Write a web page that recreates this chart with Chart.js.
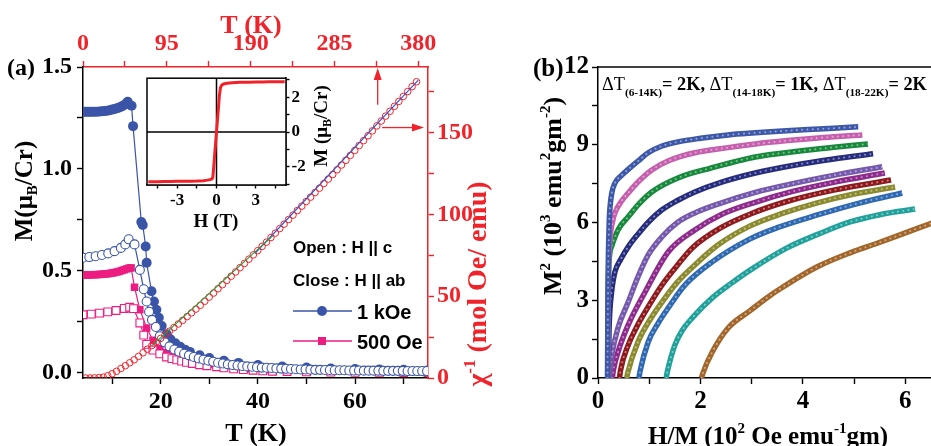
<!DOCTYPE html>
<html><head><meta charset="utf-8">
<script src="https://cdn.jsdelivr.net/npm/chart.js@4.4.1/dist/chart.umd.min.js"></script>
<style>
html,body{margin:0;padding:0;background:#fff;overflow:hidden;width:931px;height:446px;}
canvas{position:absolute;}
#cA{left:0;top:0;z-index:1}
#cB{left:140px;top:66px;z-index:2}
#cC{left:480px;top:0;z-index:3}
</style></head><body>
<canvas id="cA" width="500" height="446"></canvas>
<canvas id="cB" width="200" height="175"></canvas>
<canvas id="cC" width="452" height="446"></canvas>
<script>
// ---------------- Panel (a): M vs T ----------------
const tAbBlue = [4,4.5,5,5.5,6,6.5,7,7.5,8,8.5,9,9.5,10,10.5,11,11.5,12,12.5,13,13.2,14,14.3,16,16.3,16.9,17.1,18.1,18.6,19.1,19.6,20.2,21.2,22,23,24,25,26,28,30,33,36,40,45,50,55,60,65,70,75];
const mAbBlue = [1.28,1.28,1.28,1.28,1.28,1.281,1.281,1.282,1.283,1.284,1.286,1.288,1.291,1.294,1.298,1.302,1.307,1.314,1.323,1.33,1.31,1.21,0.74,0.725,0.62,0.54,0.40,0.35,0.31,0.27,0.23,0.19,0.165,0.145,0.128,0.114,0.103,0.086,0.073,0.059,0.049,0.039,0.031,0.026,0.022,0.019,0.017,0.015,0.013];

const tCBlue = [4,5.3,6.6,7.9,9.2,10.5,11.8,12.7,13.4,14.6,15.7,16.5,17.1,17.6,18.2,19,19.8,20.8,21.8,22.8,23.8,24.8,25.8,26.8,27.8,28.8,29.8,30.8,31.8,32.8,33.8,34.8,35.8,36.8,37.8,38.8,39.8,40.8,41.8,42.8,43.8,44.8,45.8,46.8,47.8,48.8,49.8,50.8,51.8,52.8,53.8,54.8,55.8,56.8,57.8,58.8,59.8,60.8,61.8,62.8,63.8,64.8,65.8,66.8,67.8,68.8,69.8,70.8,71.8,72.8,73.8,74.8];
const mCBlue = [0.565,0.568,0.572,0.578,0.586,0.597,0.613,0.63,0.655,0.63,0.505,0.41,0.35,0.30,0.26,0.225,0.18,
  0.15,0.13,0.115,0.104,0.094,0.086,0.078,0.071,0.065,0.06,
  0.055,0.05,0.046,0.042,0.039,0.036,0.034,0.032,0.03,0.028,
  0.026,0.025,0.024,0.022,0.021,0.02,0.019,0.018,0.017,0.017,
  0.016,0.015,0.015,0.014,0.014,0.013,0.013,0.013,0.012,0.012,
  0.012,0.011,0.011,0.011,0.011,0.01,0.01,0.01,0.01,0.01,
  0.009,0.009,0.009,0.009,0.009];

const tAbPink = [4,4.5,5,5.5,6,6.5,7,7.5,8,8.5,9,9.5,10,10.5,11,11.5,12,12.5,13,13.5,13.9,14.6,15.7,17.1,18.4,19.8,21.2,22.5,24,25.3,27,28.5,30,32,35,38,42,46,50,55,60,65,70,75];
const mAbPink = [0.48,0.48,0.48,0.481,0.481,0.482,0.482,0.483,0.484,0.485,0.486,0.488,0.49,0.492,0.495,0.498,0.502,0.506,0.51,0.514,0.515,
  0.42,0.31,0.22,0.16,0.12,0.10,0.08,0.07,0.064,0.055,
  0.048,0.042,0.035,0.026,0.02,0.015,0.012,0.01,0.008,0.007,
  0.006,0.005,0.005];

const tCPink = [4,5.7,7.4,9.1,10.8,12.5,13.6,14.4,15.7,16.5,17.1,18.4,19.8,21.2,22.3,23.3,24.3,25.3,26.5,28,29.5,31.5,33,35,37,39,41,43,46,50,55,60,65,70,75];
const mCPink = [0.285,0.288,0.293,0.299,0.306,0.316,0.322,0.315,0.245,0.185,
  0.14,0.112,0.093,0.078,0.07,0.064,0.058,0.052,0.046,0.04,
  0.035,0.03,0.025,0.02,0.016,0.013,0.01,0.008,0.007,0.005,
  0.004,0.003,0.003,0.002,0.002];

// inverse susceptibility vs T (top / right axes)
const tChi = [3,8,13,18,23,28,33,38,43,48,53,58,63,68,73,78,83,88,93,98,103,108,113,118,123,128,133,138,143,148,153,158,163,168,173,178,183,188,193,198,203,208,213,218,223,228,233,238,243,248,253,258,263,268,273,278,283,288,293,298,303,308,313,318,323,328,333,338,343,348,353,358,363,368,373,378];
const chiInv = [0,0,0.1,0.2,0.5,1.4,2.6,4.1,5.8,7.5,9.3,11.1,13.2,15.4,17.6,19.8,22.0,24.2,26.4,28.6,30.8,33.0,35.2,37.5,39.8,42.1,44.4,46.9,49.4,51.9,54.5,57.0,59.6,62.2,64.8,67.4,70.0,72.6,75.2,77.8,80.4,83.0,85.8,88.5,91.3,94.0,96.8,99.5,102.3,105.0,107.8,110.5,113.3,116.0,118.8,121.5,124.3,127.2,130.1,133.0,136.0,139.0,142.0,145.0,148.0,151.0,154.0,157.0,160.0,163.0,166.0,169.0,172.0,175.0,178.0,181.0];
const fitGreenT = [78, 215], fitGreenChi = [19.8, 86.8];
const fitBlueT = [195, 380], fitBlueChi = [76.2, 182.0];

// tick values
const tTicks = [10,20,30,40,50,60,70], tMajor = [20,40,60];
const topTTicks = [0,47.5,95,142.5,190,237.5,285,332.5,380], topTMajor = [0,95,190,285,380];
const mTicks = [0,0.25,0.5,0.75,1,1.25,1.5], mMajor = [0,0.5,1,1.5];
const chiTicks = [0,25,50,75,100,125,150,175], chiMajor = [0,50,100,150];

// arrows (data coordinates on top/right axes)
const arrowUpT = 334, arrowUpFromChi = 167;
const arrowRightChi = 153, arrowRightFromT = 339;

// ---------------- Inset: M vs H ----------------
const hInset = [-5.2,-4.5,-4,-3.5,-3,-2.5,-2,-1.5,-1,-0.7,-0.5,-0.35,-0.28,-0.22,-0.15,-0.05,0.05,0.15,0.22,0.3,0.4,0.55,0.8,1.2,1.8,2.5,3,3.5,4,4.5,5.2];
const mInset = [-2.86,-2.86,-2.85,-2.85,-2.84,-2.84,-2.83,-2.82,-2.8,-2.77,-2.74,-2.7,-2.62,-2.1,-1.4,-0.45,0.45,1.4,2.1,2.55,2.7,2.77,2.81,2.84,2.86,2.87,2.88,2.88,2.89,2.89,2.89];
const hTicks = [-4.5,-3,-1.5,0,1.5,3,4.5], hMajor = [-3,0,3];
const mInsTicks = [-3,-2,-1,0,1,2,3], mInsMajor = [-2,0,2];

// ---------------- Panel (b): Arrott plots ----------------
const arrottT = [6,8,10,12,14,15,16,17,18,20,22];
const arrottColors = ['#3d58a9','#c55fae','#17893b','#272d7e','#7559ad','#8d2a8c','#8e1a1d','#8b8a2e','#2f69b1','#20a19b','#a2652a'];
const hm06 = [0.185,0.19,0.195,0.2,0.21,0.22,0.235,0.27,0.33,0.45,0.59,0.8,0.98,1.25,1.56,2.0,2.54,3.07,3.6,4.1,4.6,5.08];
const ms06 = [0,1.5,3,4.3,5.4,6.1,6.6,7.15,7.52,7.8,8.05,8.4,8.69,8.95,9.11,9.25,9.38,9.46,9.53,9.59,9.64,9.69];
const hm08 = [0.19,0.195,0.2,0.205,0.215,0.24,0.28,0.33,0.45,0.59,0.8,1.05,1.4,1.89,2.5,3.07,3.7,4.4,5.16];
const ms08 = [0,1.5,3,4.0,4.8,5.5,6.0,6.37,6.8,7.14,7.6,8.03,8.4,8.69,8.88,9.03,9.16,9.28,9.38];
const hm10 = [0.19,0.195,0.2,0.21,0.23,0.27,0.4,0.59,0.8,1.05,1.56,2.2,3.07,3.9,4.6,5.27];
const ms10 = [0,1.5,3.2,4.2,4.8,5.1,5.75,6.22,6.72,7.18,7.72,8.1,8.53,8.75,8.9,9.03];
const hm12 = [0.2,0.205,0.215,0.23,0.27,0.33,0.45,0.59,0.78,1.0,1.25,1.55,1.89,2.4,3.07,3.8,4.6,5.37];
const ms12 = [0,0.8,1.8,2.55,3.4,4.09,4.6,5.06,5.55,6.05,6.49,6.85,7.18,7.55,7.91,8.2,8.45,8.65];
const hm14 = [0.22,0.24,0.27,0.39,0.59,0.78,0.98,1.25,1.55,1.89,2.4,3.07,3.8,4.6,5.55];
const ms14 = [0,0.4,0.89,1.93,2.93,3.9,4.75,5.45,6.0,6.37,6.75,7.16,7.5,7.82,8.15];
const hm15 = [0.28,0.3,0.39,0.59,0.92,1.37,1.89,2.4,3.07,3.8,4.6,5.6];
const ms15 = [0,0.3,1.0,2.05,3.32,4.86,5.71,6.3,6.78,7.2,7.55,7.91];
const hm16 = [0.42,0.44,0.59,0.75,0.92,1.25,1.55,1.84,2.4,3.0,3.7,4.6,5.72];
const ms16 = [0,0.3,1.27,1.95,2.55,3.59,4.35,5.02,5.8,6.35,6.82,7.25,7.64];
const hm17 = [0.56,0.58,0.78,1.0,1.25,1.55,1.89,2.34,2.97,3.6,4.28,5.0,5.8];
const ms17 = [0,0.2,1.39,2.2,2.93,3.7,4.36,5.13,5.87,6.35,6.76,7.1,7.37];
const hm18 = [0.8,0.82,0.98,1.17,1.37,1.7,2.23,2.95,3.5,4.28,5.1,5.94];
const ms18 = [0,0.25,1.39,2.1,2.7,3.59,4.48,5.35,5.8,6.29,6.75,7.14];
const hm20 = [1.33,1.36,1.5,1.65,1.84,2.23,2.6,3.0,3.69,4.3,4.92,5.5,6.19];
const ms20 = [0,0.3,1.27,1.85,2.32,3.09,3.65,4.2,5.02,5.55,6.02,6.3,6.52];
const hm22 = [2.02,2.05,2.23,2.54,2.97,3.3,3.61,4.28,4.92,5.45,6.0,6.55];
const ms22 = [0,0.2,1.0,1.93,2.6,3.1,3.51,4.29,4.83,5.2,5.6,6.0];
const arrottH = [hm06,hm08,hm10,hm12,hm14,hm15,hm16,hm17,hm18,hm20,hm22];
const arrottM = [ms06,ms08,ms10,ms12,ms14,ms15,ms16,ms17,ms18,ms20,ms22];
const hmTicks = [0,1,2,3,4,5,6], hmMajor = [0,2,4,6];
const msTicks = [0,1.5,3,4.5,6,7.5,9,10.5,12], msMajor = [0,3,6,9,12];

// ---------------- helpers ----------------
const SERIF = "'Liberation Serif','Times New Roman',serif";
const SANS = "'Liberation Sans',Arial,Helvetica,sans-serif";
const RED = '#f0232a', BLUE = '#3a55a8', PINK = '#ec1c80';

const pts = (xs, ys) => xs.map((x, i) => ({x, y: ys[i]}));
const fixedTicks = vals => s => { s.ticks = vals.map(v => ({value: v})); };
const labelIf = (majors, fmt) => v => majors.includes(v) ? fmt(v) : '';

function drawRich(ctx, parts, x, y, o = {}) {
  ctx.save();
  ctx.translate(x, y);
  if (o.rot) ctx.rotate(o.rot);
  let w = 0;
  for (const p of parts) {
    ctx.font = `${p.w || 'bold'} ${p.s}px ${p.f || SERIF}`;
    p.mw = ctx.measureText(p.t).width;
    w += p.mw;
  }
  let cx = o.align === 'left' ? 0 : -w / 2;
  ctx.fillStyle = o.color || '#000';
  ctx.textBaseline = 'alphabetic';
  ctx.textAlign = 'left';
  for (const p of parts) {
    ctx.font = `${p.w || 'bold'} ${p.s}px ${p.f || SERIF}`;
    ctx.fillText(p.t, cx, (o.base || 0) + (p.dy || 0));
    cx += p.mw;
  }
  ctx.restore();
  return w;
}
function arrow(ctx, x0, y0, x1, y1, color) {
  const ang = Math.atan2(y1 - y0, x1 - x0), L = 12, W = 4;
  const bx = x1 - L * Math.cos(ang), by = y1 - L * Math.sin(ang);
  ctx.save();
  ctx.strokeStyle = color; ctx.fillStyle = color; ctx.lineWidth = 1.3;
  ctx.beginPath(); ctx.moveTo(x0, y0); ctx.lineTo(bx, by); ctx.stroke();
  ctx.beginPath(); ctx.moveTo(x1, y1);
  ctx.lineTo(bx - W * Math.sin(ang), by + W * Math.cos(ang));
  ctx.lineTo(bx + W * Math.sin(ang), by - W * Math.cos(ang));
  ctx.closePath(); ctx.fill();
  ctx.restore();
}
function axisCommon(color, len, font, pad) {
  return {
    grid: {drawOnChartArea: false, tickLength: len, tickWidth: 1.4, tickColor: color},
    border: {display: true, color: color, width: 1.5},
    ticks: {autoSkip: false, maxRotation: 0, color: color, font: font, padding: pad}
  };
}
function mergeAxis(base, extra) {
  const r = Object.assign({}, base, extra);
  r.ticks = Object.assign({}, base.ticks, extra.ticks || {});
  return r;
}

// ---------------- Chart (a) ----------------
const fA = {family: SERIF, size: 24, weight: 'bold'};
const decoA = {
  id: 'decoA',
  afterDraw(chart) {
    const ctx = chart.ctx, xs = chart.scales.x2, ys = chart.scales.y2, ca = chart.chartArea;
    arrow(ctx, xs.getPixelForValue(arrowUpT), ys.getPixelForValue(arrowUpFromChi), xs.getPixelForValue(arrowUpT), ca.top + 1, RED);
    arrow(ctx, xs.getPixelForValue(arrowRightFromT), ys.getPixelForValue(arrowRightChi), ca.right - 4, ys.getPixelForValue(arrowRightChi), RED);
    drawRich(ctx, [{t: '(a)', s: 24}], 7, 67, {align: 'left', base: 8});
    drawRich(ctx, [{t: 'M(\u03bc', s: 25}, {t: 'B', s: 15, dy: 5}, {t: '/Cr)', s: 25}], 23, 191, {rot: -Math.PI / 2, base: 8.5});
    drawRich(ctx, [{t: 'T (K)', s: 26}], 256, 432, {base: 9});
    drawRich(ctx, [{t: 'T (K)', s: 26}], 251, 24, {base: 9, color: RED});
    drawRich(ctx, [{t: '\u03c7', s: 28}, {t: '-1', s: 17, dy: -11}, {t: ' (mol Oe/ emu)', s: 28}], 476, 284, {rot: -Math.PI / 2, base: 9.5, color: RED});
    ctx.save();
    ctx.lineWidth = 1.6;
    ctx.strokeStyle = BLUE; ctx.beginPath(); ctx.moveTo(293, 311); ctx.lineTo(352, 311); ctx.stroke();
    ctx.fillStyle = BLUE; ctx.beginPath(); ctx.arc(322, 311, 5, 0, Math.PI * 2); ctx.fill();
    ctx.strokeStyle = PINK; ctx.beginPath(); ctx.moveTo(293, 341); ctx.lineTo(352, 341); ctx.stroke();
    ctx.fillStyle = PINK; ctx.fillRect(318, 337, 8, 8);
    ctx.restore();
    drawRich(ctx, [{t: 'Open : H || c', s: 17, f: SANS}], 293, 247, {align: 'left', base: 6});
    drawRich(ctx, [{t: 'Close : H || ab', s: 17, f: SANS}], 293, 280, {align: 'left', base: 6});
    drawRich(ctx, [{t: '1 kOe', s: 20, f: SANS}], 357, 312, {align: 'left', base: 7});
    drawRich(ctx, [{t: '500 Oe', s: 20, f: SANS}], 357, 342, {align: 'left', base: 7});
  }
};
new Chart(document.getElementById('cA'), {
  type: 'scatter',
  data: {datasets: [
    {data: pts(fitGreenT, fitGreenChi), xAxisID: 'x2', yAxisID: 'y2', showLine: true, borderColor: '#2e9a3e', borderWidth: 1.2, pointRadius: 0, order: 0},
    {data: pts(fitBlueT, fitBlueChi), xAxisID: 'x2', yAxisID: 'y2', showLine: true, borderColor: '#3a55c8', borderWidth: 1.2, pointRadius: 0, order: 0},
    {data: pts(tChi, chiInv), xAxisID: 'x2', yAxisID: 'y2', showLine: false, pointStyle: 'circle', pointRadius: 3.3, pointBorderWidth: 1, pointBorderColor: RED, pointBackgroundColor: 'rgba(0,0,0,0)', order: 1},
    {data: pts(tCBlue, mCBlue), xAxisID: 'x', yAxisID: 'y', showLine: true, borderColor: BLUE, borderWidth: 1.2, pointRadius: 4.5, pointBorderWidth: 1.1, pointBorderColor: BLUE, pointBackgroundColor: '#fff', order: 2},
    {data: pts(tAbBlue, mAbBlue), xAxisID: 'x', yAxisID: 'y', showLine: true, borderColor: BLUE, borderWidth: 1.2, pointRadius: 5, pointBorderWidth: 0, pointBackgroundColor: BLUE, order: 3},
    {data: pts(tCPink, mCPink), xAxisID: 'x', yAxisID: 'y', showLine: true, borderColor: PINK, borderWidth: 1.2, pointStyle: 'rect', pointRadius: 5.5, pointBorderWidth: 1.1, pointBorderColor: PINK, pointBackgroundColor: '#fff', order: 4},
    {data: pts(tAbPink, mAbPink), xAxisID: 'x', yAxisID: 'y', showLine: true, borderColor: PINK, borderWidth: 1.2, pointStyle: 'rect', pointRadius: 5.3, pointBorderWidth: 0, pointBackgroundColor: PINK, order: 5}
  ]},
  options: {
    responsive: false, animation: false, events: [],
    layout: {padding: 0},
    plugins: {legend: {display: false}, tooltip: {enabled: false}},
    scales: {
      x: mergeAxis(axisCommon('#000', 6, fA, 3), {type: 'linear', position: 'bottom', min: 4, max: 75,
        afterBuildTicks: fixedTicks(tTicks), afterFit: s => { s.height = 68; }, ticks: {callback: labelIf(tMajor, v => String(v))}}),
      x2: mergeAxis(axisCommon(RED, 6, fA, 3), {type: 'linear', position: 'top', min: 0, max: 391,
        afterBuildTicks: fixedTicks(topTTicks), afterFit: s => { s.height = 67; }, ticks: {callback: labelIf(topTMajor, v => String(v))}}),
      y: mergeAxis(axisCommon('#000', 6, fA, 5), {type: 'linear', position: 'left', min: -0.025, max: 1.5,
        afterBuildTicks: fixedTicks(mTicks), afterFit: s => { s.width = 83; }, ticks: {callback: labelIf(mMajor, v => v.toFixed(1))}}),
      y2: mergeAxis(axisCommon(RED, 6, fA, 3), {type: 'linear', position: 'right', min: 0, max: 190,
        afterBuildTicks: fixedTicks(chiTicks), afterFit: s => { s.width = 72; }, ticks: {callback: labelIf(chiMajor, v => String(v))}})
    }
  },
  plugins: [decoA]
});

// ---------------- Inset ----------------
const fB = {family: SERIF, size: 17, weight: 'bold'};
const decoB = {
  id: 'decoB',
  beforeDatasetsDraw(chart) {
    const ctx = chart.ctx, ca = chart.chartArea, xs = chart.scales.x, ys = chart.scales.y;
    ctx.save();
    ctx.fillStyle = '#fff'; ctx.fillRect(ca.left, ca.top, ca.right - ca.left, ca.bottom - ca.top);
    ctx.strokeStyle = '#000'; ctx.lineWidth = 1.5;
    ctx.beginPath();
    ctx.moveTo(xs.getPixelForValue(0), ca.top); ctx.lineTo(xs.getPixelForValue(0), ca.bottom);
    ctx.moveTo(ca.left, ys.getPixelForValue(0)); ctx.lineTo(ca.right, ys.getPixelForValue(0));
    ctx.stroke();
    ctx.restore();
  },
  afterDraw(chart) {
    const ctx = chart.ctx, ca = chart.chartArea;
    ctx.save(); ctx.strokeStyle = '#000'; ctx.lineWidth = 1.5;
    ctx.strokeRect(ca.left, ca.top, ca.right - ca.left, ca.bottom - ca.top); ctx.restore();
    drawRich(ctx, [{t: 'H (T)', s: 19}], 76, 154, {base: 6.5});
    drawRich(ctx, [{t: 'M (\u03bc', s: 19}, {t: 'B', s: 12, dy: 4}, {t: '/Cr)', s: 19}], 180, 60, {rot: -Math.PI / 2, base: 6.5});
  }
};
new Chart(document.getElementById('cB'), {
  type: 'scatter',
  data: {datasets: [
    {data: pts(hInset, mInset), showLine: true, borderColor: RED, borderWidth: 3, pointRadius: 0, tension: 0}
  ]},
  options: {
    responsive: false, animation: false, events: [],
    layout: {padding: {left: 7, top: 6, right: 0, bottom: 0}},
    plugins: {legend: {display: false}, tooltip: {enabled: false}},
    scales: {
      x: mergeAxis(axisCommon('#000', 3.5, fB, 2), {type: 'linear', position: 'bottom', min: -5.3, max: 5.3,
        afterBuildTicks: fixedTicks(hTicks), afterFit: s => { s.height = 56; }, ticks: {callback: labelIf(hMajor, v => String(v))}}),
      y: mergeAxis(axisCommon('#000', 3.5, fB, 2), {type: 'linear', position: 'right', min: -3.05, max: 3.1,
        afterBuildTicks: fixedTicks(mInsTicks), afterFit: s => { s.width = 54; }, ticks: {callback: labelIf(mInsMajor, v => String(v))}})
    }
  },
  plugins: [decoB]
});

// ---------------- Chart (b) ----------------
const fC = {family: SERIF, size: 25, weight: 'bold'};
const dsC = [];
arrottT.forEach((T, i) => {
  const d = pts(arrottH[i], arrottM[i]);
  dsC.push({label: T + ' K hl', data: d, showLine: true, borderColor: 'rgba(255,255,255,0.45)', borderWidth: 2, borderDash: [0.1, 5.2], borderCapStyle: 'round', pointRadius: 0, cubicInterpolationMode: 'monotone'});
  dsC.push({label: T + ' K', data: d, showLine: true, borderColor: arrottColors[i], borderWidth: 5.5, pointRadius: 0, cubicInterpolationMode: 'monotone'});
});
const decoC = {
  id: 'decoC',
  afterDraw(chart) {
    const ctx = chart.ctx, ca = chart.chartArea;
    ctx.save(); ctx.strokeStyle = '#000'; ctx.lineWidth = 1.5;
    ctx.beginPath(); ctx.moveTo(ca.left, ca.top); ctx.lineTo(ca.right, ca.top); ctx.stroke(); ctx.restore();
    drawRich(ctx, [{t: '(b)', s: 25}], 53, 67, {align: 'left', base: 8.5});
    drawRich(ctx, [{t: 'M', s: 26}, {t: '2', s: 15, dy: -11}, {t: ' (10', s: 26}, {t: '3', s: 15, dy: -11}, {t: ' emu', s: 26}, {t: '2', s: 15, dy: -11}, {t: 'gm', s: 26}, {t: '-2', s: 15, dy: -11}, {t: ')', s: 26}], 72, 196, {rot: -Math.PI / 2, base: 9});
    drawRich(ctx, [{t: 'H/M (10', s: 25}, {t: '2', s: 15, dy: -11}, {t: ' Oe emu', s: 25}, {t: '-1', s: 15, dy: -11}, {t: 'gm)', s: 25}], 288, 435, {base: 8.5});
    const mk = s => [
      {t: '\u0394T', s: s, w: 'normal'}, {t: '(6-14K)', s: s * 0.62, dy: s * 0.32}, {t: '= 2K, ', s: s},
      {t: '\u0394T', s: s, w: 'normal'}, {t: '(14-18K)', s: s * 0.62, dy: s * 0.32}, {t: '= 1K, ', s: s},
      {t: '\u0394T', s: s, w: 'normal'}, {t: '(18-22K)', s: s * 0.62, dy: s * 0.32}, {t: '= 2K', s: s}];
    ctx.save(); ctx.globalAlpha = 0;
    const w0 = drawRich(ctx, mk(19), 0, 0, {align: 'left'});
    ctx.restore();
    const s = 19 * 325 / w0;
    drawRich(ctx, mk(s), 122, 90, {align: 'left'});
  }
};
new Chart(document.getElementById('cC'), {
  type: 'scatter',
  data: {datasets: dsC},
  options: {
    responsive: false, animation: false, events: [],
    layout: {padding: {left: 0, top: 67, right: 0, bottom: 0}},
    plugins: {legend: {display: false}, tooltip: {enabled: false}},
    scales: {
      x: mergeAxis(axisCommon('#000', 6, fC, 3), {type: 'linear', position: 'bottom', min: 0, max: 6.52,
        afterBuildTicks: fixedTicks(hmTicks), afterFit: s => { s.height = 68; }, ticks: {callback: labelIf(hmMajor, v => String(v))}}),
      y: mergeAxis(axisCommon('#000', 6, fC, 3), {type: 'linear', position: 'left', min: 0, max: 12,
        afterBuildTicks: fixedTicks(msTicks), afterFit: s => { s.width = 118; }, ticks: {callback: labelIf(msMajor, v => String(v))}})
    }
  },
  plugins: [decoC]
});
</script></body></html>
